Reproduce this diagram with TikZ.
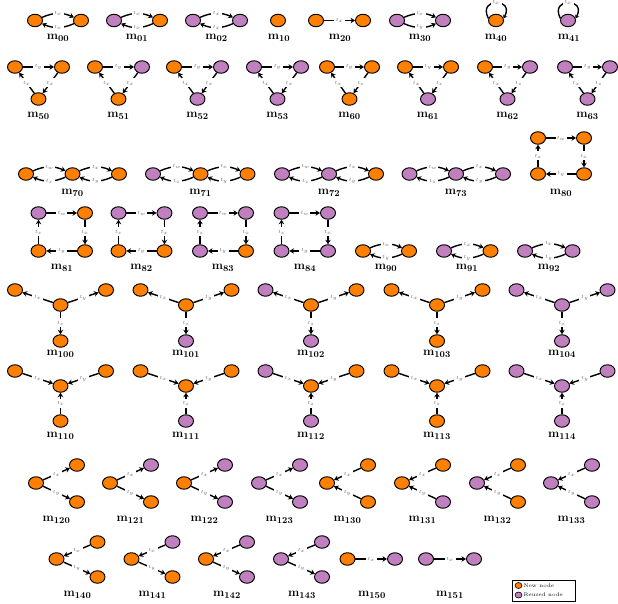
\documentclass[tikz,border=0pt]{standalone}
\usetikzlibrary{shapes.geometric,arrows.meta}
\definecolor{newc}{RGB}{255,128,0}
\definecolor{reuc}{RGB}{192,128,192}
\begin{document}
\begin{tikzpicture}[x=1pt,y=1pt,
  nn/.style={ellipse,draw,line width=0.95pt,minimum width=15pt,minimum height=12.5pt,inner sep=0pt,fill=newc},
  rn/.style={nn,fill=reuc},
  ed/.style={line width=1.4pt,-{Stealth[length=4.5pt,width=5.5pt]}},
  bl/.style={bend left=24},
  br/.style={bend right=24},
  el/.style={fill=white,inner sep=0pt,minimum width=11pt,minimum height=9pt,font=\fontsize{5}{6}\selectfont,text=black!60},
  ml/.style={font=\fontsize{12.5}{14}\selectfont},
]
\useasboundingbox (0,0) rectangle (618,603);
% ---------- row 1
\node[nn] (a00) at (35,582.5) {}; \node[nn] (b00) at (81,582.5) {};
\draw[ed] (a00) to[bl] node[el]{$t_x$} (b00);
\draw[ed] (b00) to[bl] node[el]{$t_x$} (a00);
\node[ml] (l00) at (58,565) {$\mathbf{m}_{\mathbf{00}}$};
\node[rn] (a01) at (114,582.5) {}; \node[nn] (b01) at (160,582.5) {};
\draw[ed] (a01) to[bl] node[el]{$t_x$} (b01);
\draw[ed] (b01) to[bl] node[el]{$t_x$} (a01);
\node[ml] (l01) at (137,565) {$\mathbf{m}_{\mathbf{01}}$};
\node[rn] (a02) at (193,582.5) {}; \node[rn] (b02) at (240,582.5) {};
\draw[ed] (a02) to[bl] node[el]{$t_x$} (b02);
\draw[ed] (b02) to[bl] node[el]{$t_x$} (a02);
\node[ml] (l02) at (216.5,565) {$\mathbf{m}_{\mathbf{02}}$};
\node[nn] (a10) at (278,582.5) {};
\node[ml] (l10) at (279,565) {$\mathbf{m}_{\mathbf{10}}$};
\node[nn] (a20) at (316,582.5) {}; \node[nn] (b20) at (363,582.5) {};
\draw[ed] (a20) -- node[el]{$t_x$} (b20);
\node[ml] (l20) at (340,565) {$\mathbf{m}_{\mathbf{20}}$};
\node[rn] (a30) at (397,582.5) {}; \node[rn] (b30) at (443,582.5) {};
\draw[ed] (a30) to[bl] node[el]{$t_x$} (b30);
\draw[ed] (a30) to[br] node[el]{$t_y$} (b30);
\node[ml] (l30) at (420,565) {$\mathbf{m}_{\mathbf{30}}$};
\node[nn] (a40) at (496,582.5) {};
\draw[line width=1.4pt,-{Stealth[length=3.5pt,width=4.5pt]}] (a40.165) .. controls +(118:24) and +(62:24) .. node[el]{$t_x$} (a40.15);
\node[ml] (l40) at (496,565) {$\mathbf{m}_{\mathbf{40}}$};
\node[rn] (a41) at (568,582.5) {};
\draw[line width=1.4pt,-{Stealth[length=3.5pt,width=4.5pt]}] (a41.165) .. controls +(118:24) and +(62:24) .. node[el]{$t_x$} (a41.15);
\node[ml] (l41) at (569,565) {$\mathbf{m}_{\mathbf{41}}$};
% ---------- row 2 (triangles)
\node[nn] (a50) at (15,536) {}; \node[nn] (b50) at (62,536) {}; \node[nn] (c50) at (38.5,504) {};
\draw[ed] (a50) -- node[el]{$t_y$} (b50); \draw[ed] (b50) -- node[el]{$t_x$} (c50); \draw[ed] (c50) -- node[el]{$t_x$} (a50);
\node[ml] (l50) at (38.5,487) {$\mathbf{m}_{\mathbf{50}}$};
\node[nn] (a51) at (95,536) {}; \node[rn] (b51) at (142,536) {}; \node[nn] (c51) at (118.5,504) {};
\draw[ed] (a51) -- node[el]{$t_y$} (b51); \draw[ed] (b51) -- node[el]{$t_x$} (c51); \draw[ed] (c51) -- node[el]{$t_x$} (a51);
\node[ml] (l51) at (118.5,487) {$\mathbf{m}_{\mathbf{51}}$};
\node[nn] (a52) at (174,536) {}; \node[rn] (b52) at (221,536) {}; \node[rn] (c52) at (197.5,504) {};
\draw[ed] (a52) -- node[el]{$t_y$} (b52); \draw[ed] (b52) -- node[el]{$t_x$} (c52); \draw[ed] (c52) -- node[el]{$t_x$} (a52);
\node[ml] (l52) at (197.5,487) {$\mathbf{m}_{\mathbf{52}}$};
\node[rn] (a53) at (254,536) {}; \node[rn] (b53) at (301,536) {}; \node[rn] (c53) at (277.5,504) {};
\draw[ed] (a53) -- node[el]{$t_y$} (b53); \draw[ed] (b53) -- node[el]{$t_x$} (c53); \draw[ed] (c53) -- node[el]{$t_x$} (a53);
\node[ml] (l53) at (277.5,487) {$\mathbf{m}_{\mathbf{53}}$};
\node[nn] (a60) at (327,536) {}; \node[nn] (b60) at (372,536) {}; \node[nn] (c60) at (349.5,504) {};
\draw[ed] (a60) -- node[el]{$t_y$} (b60); \draw[ed] (b60) -- node[el]{$t_z$} (c60); \draw[ed] (c60) -- node[el]{$t_x$} (a60);
\node[ml] (l60) at (349.5,487) {$\mathbf{m}_{\mathbf{60}}$};
\node[nn] (a61) at (405,536) {}; \node[nn] (b61) at (451,536) {}; \node[rn] (c61) at (428,504) {};
\draw[ed] (a61) -- node[el]{$t_y$} (b61); \draw[ed] (b61) -- node[el]{$t_z$} (c61); \draw[ed] (c61) -- node[el]{$t_x$} (a61);
\node[ml] (l61) at (428,487) {$\mathbf{m}_{\mathbf{61}}$};
\node[nn] (a62) at (485,536) {}; \node[rn] (b62) at (530,536) {}; \node[rn] (c62) at (507.5,504) {};
\draw[ed] (a62) -- node[el]{$t_y$} (b62); \draw[ed] (b62) -- node[el]{$t_z$} (c62); \draw[ed] (c62) -- node[el]{$t_x$} (a62);
\node[ml] (l62) at (507.5,487) {$\mathbf{m}_{\mathbf{62}}$};
\node[rn] (a63) at (565,536) {}; \node[rn] (b63) at (610,536) {}; \node[rn] (c63) at (587.5,504) {};
\draw[ed] (a63) -- node[el]{$t_y$} (b63); \draw[ed] (b63) -- node[el]{$t_z$} (c63); \draw[ed] (c63) -- node[el]{$t_x$} (a63);
\node[ml] (l63) at (587.5,487) {$\mathbf{m}_{\mathbf{63}}$};
% ---------- row 3 (chains)
\node[nn] (a70) at (26,429) {}; \node[nn] (b70) at (72.5,429) {}; \node[nn] (c70) at (119,429) {};
\draw[ed] (a70) to[bl] node[el]{$t_w$} (b70); \draw[ed] (b70) to[bl] node[el]{$t_z$} (a70);
\draw[ed] (b70) to[bl] node[el]{$t_x$} (c70); \draw[ed] (c70) to[bl] node[el]{$t_y$} (b70);
\node[ml] (l70) at (72.5,410) {$\mathbf{m}_{\mathbf{70}}$};
\node[rn] (a71) at (153,429) {}; \node[nn] (b71) at (200.5,429) {}; \node[nn] (c71) at (247.5,429) {};
\draw[ed] (a71) to[bl] node[el]{$t_w$} (b71); \draw[ed] (b71) to[bl] node[el]{$t_z$} (a71);
\draw[ed] (b71) to[bl] node[el]{$t_x$} (c71); \draw[ed] (c71) to[bl] node[el]{$t_y$} (b71);
\node[ml] (l71) at (200.5,410) {$\mathbf{m}_{\mathbf{71}}$};
\node[rn] (a72) at (282,429) {}; \node[rn] (b72) at (329,429) {}; \node[nn] (c72) at (376,429) {};
\draw[ed] (a72) to[bl] node[el]{$t_w$} (b72); \draw[ed] (b72) to[bl] node[el]{$t_z$} (a72);
\draw[ed] (b72) to[bl] node[el]{$t_x$} (c72); \draw[ed] (c72) to[bl] node[el]{$t_y$} (b72);
\node[ml] (l72) at (329,410) {$\mathbf{m}_{\mathbf{72}}$};
\node[rn] (a73) at (409.5,429) {}; \node[rn] (b73) at (456,429) {}; \node[rn] (c73) at (503,429) {};
\draw[ed] (a73) to[bl] node[el]{$t_w$} (b73); \draw[ed] (b73) to[bl] node[el]{$t_z$} (a73);
\draw[ed] (b73) to[bl] node[el]{$t_x$} (c73); \draw[ed] (c73) to[bl] node[el]{$t_y$} (b73);
\node[ml] (l73) at (456,410) {$\mathbf{m}_{\mathbf{73}}$};
% ---------- squares
\node[nn] (a80) at (538,465) {}; \node[nn] (b80) at (584,465) {}; \node[nn] (c80) at (584,429) {}; \node[nn] (d80) at (538,429) {};
\draw[ed] (a80) -- node[el]{$t_w$} (b80); \draw[ed] (b80) -- node[el]{$t_x$} (c80);
\draw[ed] (c80) -- node[el]{$t_y$} (d80); \draw[ed] (d80) -- node[el]{$t_z$} (a80);
\node[ml] (l80) at (561,410) {$\mathbf{m}_{\mathbf{80}}$};
\node[rn] (a81) at (38.5,390) {}; \node[nn] (b81) at (85,390) {}; \node[nn] (c81) at (85,352) {}; \node[nn] (d81) at (38.5,352) {};
\draw[ed] (a81) -- node[el]{$t_w$} (b81); \draw[ed] (b81) -- node[el]{$t_x$} (c81);
\draw[ed] (c81) -- node[el]{$t_y$} (d81); \draw[ed] (d81) -- node[el]{$t_z$} (a81);
\node[ml] (l81) at (62,335) {$\mathbf{m}_{\mathbf{81}}$};
\node[rn] (a82) at (118.5,390) {}; \node[rn] (b82) at (164.5,390) {}; \node[nn] (c82) at (164.5,352) {}; \node[nn] (d82) at (118.5,352) {};
\draw[ed] (a82) -- node[el]{$t_w$} (b82); \draw[ed] (b82) -- node[el]{$t_x$} (c82);
\draw[ed] (c82) -- node[el]{$t_y$} (d82); \draw[ed] (d82) -- node[el]{$t_z$} (a82);
\node[ml] (l82) at (141.5,335) {$\mathbf{m}_{\mathbf{82}}$};
\node[rn] (a83) at (200,390) {}; \node[rn] (b83) at (246,390) {}; \node[nn] (c83) at (246,352) {}; \node[rn] (d83) at (200,352) {};
\draw[ed] (a83) -- node[el]{$t_w$} (b83); \draw[ed] (b83) -- node[el]{$t_x$} (c83);
\draw[ed] (c83) -- node[el]{$t_y$} (d83); \draw[ed] (d83) -- node[el]{$t_z$} (a83);
\node[ml] (l83) at (223,335) {$\mathbf{m}_{\mathbf{83}}$};
\node[rn] (a84) at (281.5,390) {}; \node[rn] (b84) at (328,390) {}; \node[rn] (c84) at (328,352) {}; \node[rn] (d84) at (281.5,352) {};
\draw[ed] (a84) -- node[el]{$t_w$} (b84); \draw[ed] (b84) -- node[el]{$t_x$} (c84);
\draw[ed] (c84) -- node[el]{$t_y$} (d84); \draw[ed] (d84) -- node[el]{$t_z$} (a84);
\node[ml] (l84) at (305,335) {$\mathbf{m}_{\mathbf{84}}$};
% ---------- m9x
\node[nn] (a90) at (363,352) {}; \node[nn] (b90) at (409,352) {};
\draw[ed] (a90) to[bl] node[el]{$t_x$} (b90); \draw[ed] (b90) to[bl] node[el]{$t_y$} (a90);
\node[ml] (l90) at (386,335) {$\mathbf{m}_{\mathbf{90}}$};
\node[rn] (a91) at (444,352) {}; \node[nn] (b91) at (490.5,352) {};
\draw[ed] (a91) to[bl] node[el]{$t_x$} (b91); \draw[ed] (b91) to[bl] node[el]{$t_y$} (a91);
\node[ml] (l91) at (467,335) {$\mathbf{m}_{\mathbf{91}}$};
\node[rn] (a92) at (525,352) {}; \node[rn] (b92) at (572.5,352) {};
\draw[ed] (a92) to[bl] node[el]{$t_x$} (b92); \draw[ed] (b92) to[bl] node[el]{$t_y$} (a92);
\node[ml] (l92) at (549,335) {$\mathbf{m}_{\mathbf{92}}$};
% ---------- row 5 (out-stars)
\foreach \i/\x/\ta/\tc/\tb/\tbb in {100/60.5/nn/nn/nn/nn,101/186/nn/nn/nn/rn,102/311/rn/nn/nn/rn,103/437/nn/nn/nn/nn,104/562/rn/rn/rn/rn}{
  \node[\ta] (a\i) at (\x-45.5,313) {}; \node[\tc] (c\i) at (\x,298) {};
  \node[\tb] (b\i) at (\x+45.5,313) {}; \node[\tbb] (d\i) at (\x,262) {};
  \draw[ed] (c\i) -- node[el]{$t_x$} (a\i); \draw[ed] (c\i) -- node[el]{$t_y$} (b\i);
  \draw[ed] (c\i) -- node[el]{$t_z$} (d\i);
  \node[ml] (l\i) at (\x,249) {$\mathbf{m}_{\mathbf{\i}}$};
}
% ---------- row 6 (in-stars)
\foreach \i/\x/\ta/\tc/\tb/\tbb in {110/60.5/nn/nn/nn/nn,111/186/nn/nn/nn/rn,112/311/rn/nn/nn/rn,113/437/nn/nn/nn/nn,114/562/rn/rn/rn/rn}{
  \node[\ta] (a\i) at (\x-45.5,232) {}; \node[\tc] (c\i) at (\x,217) {};
  \node[\tb] (b\i) at (\x+45.5,232) {}; \node[\tbb] (d\i) at (\x,182) {};
  \draw[ed] (a\i) -- node[el]{$t_x$} (c\i); \draw[ed] (b\i) -- node[el]{$t_y$} (c\i);
  \draw[ed] (d\i) -- node[el]{$t_z$} (c\i);
  \node[ml] (l\i) at (\x,167) {$\mathbf{m}_{\mathbf{\i}}$};
}
% ---------- row 7
\foreach \i/\x/\ta/\tb/\tc in {120/36/nn/nn/nn,121/110/nn/rn/nn,122/184/nn/rn/rn,123/259/rn/rn/rn}{
  \node[\ta] (a\i) at (\x,120) {}; \node[\tb] (b\i) at (\x+41,138) {}; \node[\tc] (c\i) at (\x+41,101) {};
  \draw[ed] (a\i) -- node[el]{$t_x$} (b\i); \draw[ed] (a\i) -- node[el]{$t_y$} (c\i);
  \node[ml] (l\i) at (\x+20.5,83) {$\mathbf{m}_{\mathbf{\i}}$};
}
\foreach \i/\x/\ta/\tb/\tc in {130/327/nn/nn/nn,131/402/nn/nn/rn,132/477/rn/nn/nn,133/551/rn/rn/rn}{
  \node[\ta] (a\i) at (\x,120) {}; \node[\tb] (b\i) at (\x+41,138) {}; \node[\tc] (c\i) at (\x+41,101) {};
  \draw[ed] (b\i) -- node[el]{$t_x$} (a\i); \draw[ed] (c\i) -- node[el]{$t_y$} (a\i);
  \node[ml] (l\i) at (\x+20.5,83) {$\mathbf{m}_{\mathbf{\i}}$};
}
% ---------- row 8
\foreach \i/\x/\ta/\tb/\tc in {140/56.5/nn/nn/nn,141/131.5/nn/rn/nn,142/206/nn/rn/rn,143/281/rn/rn/rn}{
  \node[\ta] (a\i) at (\x,44) {}; \node[\tb] (b\i) at (\x+41,61) {}; \node[\tc] (c\i) at (\x+41,26) {};
  \draw[ed] (b\i) -- node[el]{$t_x$} (a\i); \draw[ed] (a\i) -- node[el]{$t_y$} (c\i);
  \node[ml] (l\i) at (\x+21,8) {$\mathbf{m}_{\mathbf{\i}}$};
}
\node[nn] (a150) at (347.5,44) {}; \node[rn] (b150) at (395,44) {};
\draw[ed] (a150) -- node[el]{$t_x$} (b150);
\node[ml] (l150) at (372,8) {$\mathbf{m}_{\mathbf{150}}$};
\node[rn] (a151) at (426,44) {}; \node[rn] (b151) at (474,44) {};
\draw[ed] (a151) -- node[el]{$t_x$} (b151);
\node[ml] (l151) at (450,8) {$\mathbf{m}_{\mathbf{151}}$};
% ---------- legend
\node[draw,line width=0.5pt,minimum width=63pt,minimum height=21pt,inner sep=0pt] (leg) at (544,12.5) {};
\node[nn,minimum width=7pt,minimum height=6pt,line width=0.6pt] (lgo) at (518.5,17.5) {};
\node[font=\fontsize{5.2}{6}\selectfont,anchor=west,inner sep=0.5pt] (lgot) at (523,17.5) {New node};
\node[rn,minimum width=7pt,minimum height=6pt,line width=0.6pt] (lgp) at (518.5,8) {};
\node[font=\fontsize{5.2}{6}\selectfont,anchor=west,inner sep=0.5pt] (lgpt) at (523,8) {Reused node};
\end{tikzpicture}
\end{document}
